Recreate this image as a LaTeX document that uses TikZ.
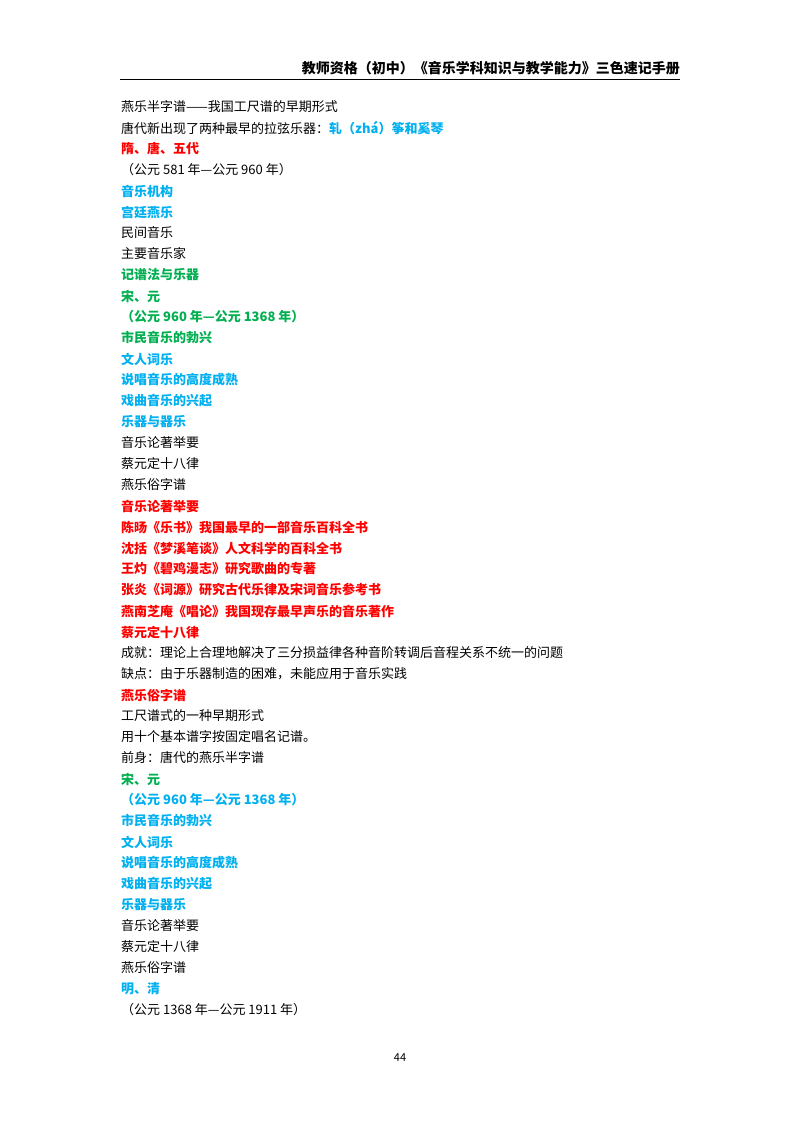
\documentclass[tikz,border=0pt]{standalone}
\usepackage{fontspec}
\setmainfont{Noto Sans CJK SC}
\definecolor{cred}{RGB}{255,0,0}
\definecolor{cblue}{RGB}{0,176,240}
\definecolor{cgreen}{RGB}{0,176,80}
\begin{document}
\begin{tikzpicture}[x=1pt,y=-1pt,
 t/.style={anchor=west,inner sep=0pt,font=\fontsize{13}{13}\selectfont},
 k/.style={t,black},
 r/.style={t,cred,font=\fontsize{13}{13}\selectfont\bfseries},
 b/.style={t,cblue,font=\fontsize{13}{13}\selectfont\bfseries},
 g/.style={t,cgreen,font=\fontsize{13}{13}\selectfont\bfseries}]
\useasboundingbox[fill=white] (0,0) rectangle (800,1132);
\node[anchor=east,inner sep=0pt,font=\fontsize{14}{14}\selectfont\bfseries] (hd) at (680,68) {教师资格（初中）《音乐学科知识与教学能力》三色速记手册};
\draw[line width=0.6pt] (120,79) -- (680,79);
\node[k] (l1) at (121,107) {燕乐半字谱——我国工尺谱的早期形式};
\node[k] (l2) at (121,128) {唐代新出现了两种最早的拉弦乐器：\textcolor{cblue}{\bfseries 轧（zhá）筝和奚琴}};
\node[r] (l3) at (121,149) {隋、唐、五代};
\node[k] (l4) at (121,170) {（公元 581 年—公元 960 年）};
\node[b] (l5) at (121,191) {音乐机构};
\node[b] (l6) at (121,212) {宫廷燕乐};
\node[k] (l7) at (121,233) {民间音乐};
\node[k] (l8) at (121,254) {主要音乐家};
\node[g] (l9) at (121,275) {记谱法与乐器};
\node[g] (l10) at (121,296) {宋、元};
\node[g] (l11) at (121,317) {（公元 960 年—公元 1368 年）};
\node[g] (l12) at (121,338) {市民音乐的勃兴};
\node[b] (l13) at (121,359) {文人词乐};
\node[b] (l14) at (121,380) {说唱音乐的高度成熟};
\node[b] (l15) at (121,401) {戏曲音乐的兴起};
\node[b] (l16) at (121,422) {乐器与器乐};
\node[k] (l17) at (121,443) {音乐论著举要};
\node[k] (l18) at (121,464) {蔡元定十八律};
\node[k] (l19) at (121,485) {燕乐俗字谱};
\node[r] (l20) at (121,506) {音乐论著举要};
\node[r] (l21) at (121,527) {陈旸《乐书》我国最早的一部音乐百科全书};
\node[r] (l22) at (121,548) {沈括《梦溪笔谈》人文科学的百科全书};
\node[r] (l23) at (121,569) {王灼《碧鸡漫志》研究歌曲的专著};
\node[r] (l24) at (121,590) {张炎《词源》研究古代乐律及宋词音乐参考书};
\node[r] (l25) at (121,611) {燕南芝庵《唱论》我国现存最早声乐的音乐著作};
\node[r] (l26) at (121,632) {蔡元定十八律};
\node[k] (l27) at (121,653) {成就：理论上合理地解决了三分损益律各种音阶转调后音程关系不统一的问题};
\node[k] (l28) at (121,674) {缺点：由于乐器制造的困难，未能应用于音乐实践};
\node[r] (l29) at (121,695) {燕乐俗字谱};
\node[k] (l30) at (121,716) {工尺谱式的一种早期形式};
\node[k] (l31) at (121,737) {用十个基本谱字按固定唱名记谱。};
\node[k] (l32) at (121,758) {前身：唐代的燕乐半字谱};
\node[g] (l33) at (121,779) {宋、元};
\node[b] (l34) at (121,800) {（公元 960 年—公元 1368 年）};
\node[b] (l35) at (121,821) {市民音乐的勃兴};
\node[b] (l36) at (121,842) {文人词乐};
\node[b] (l37) at (121,863) {说唱音乐的高度成熟};
\node[b] (l38) at (121,884) {戏曲音乐的兴起};
\node[b] (l39) at (121,905) {乐器与器乐};
\node[k] (l40) at (121,926) {音乐论著举要};
\node[k] (l41) at (121,947) {蔡元定十八律};
\node[k] (l42) at (121,968) {燕乐俗字谱};
\node[b] (l43) at (121,989) {明、清};
\node[k] (l44) at (121,1010) {（公元 1368 年—公元 1911 年）};
\node[inner sep=0pt,font=\fontsize{11}{11}\selectfont] (pg) at (400,1058) {44};
\end{tikzpicture}
\end{document}
